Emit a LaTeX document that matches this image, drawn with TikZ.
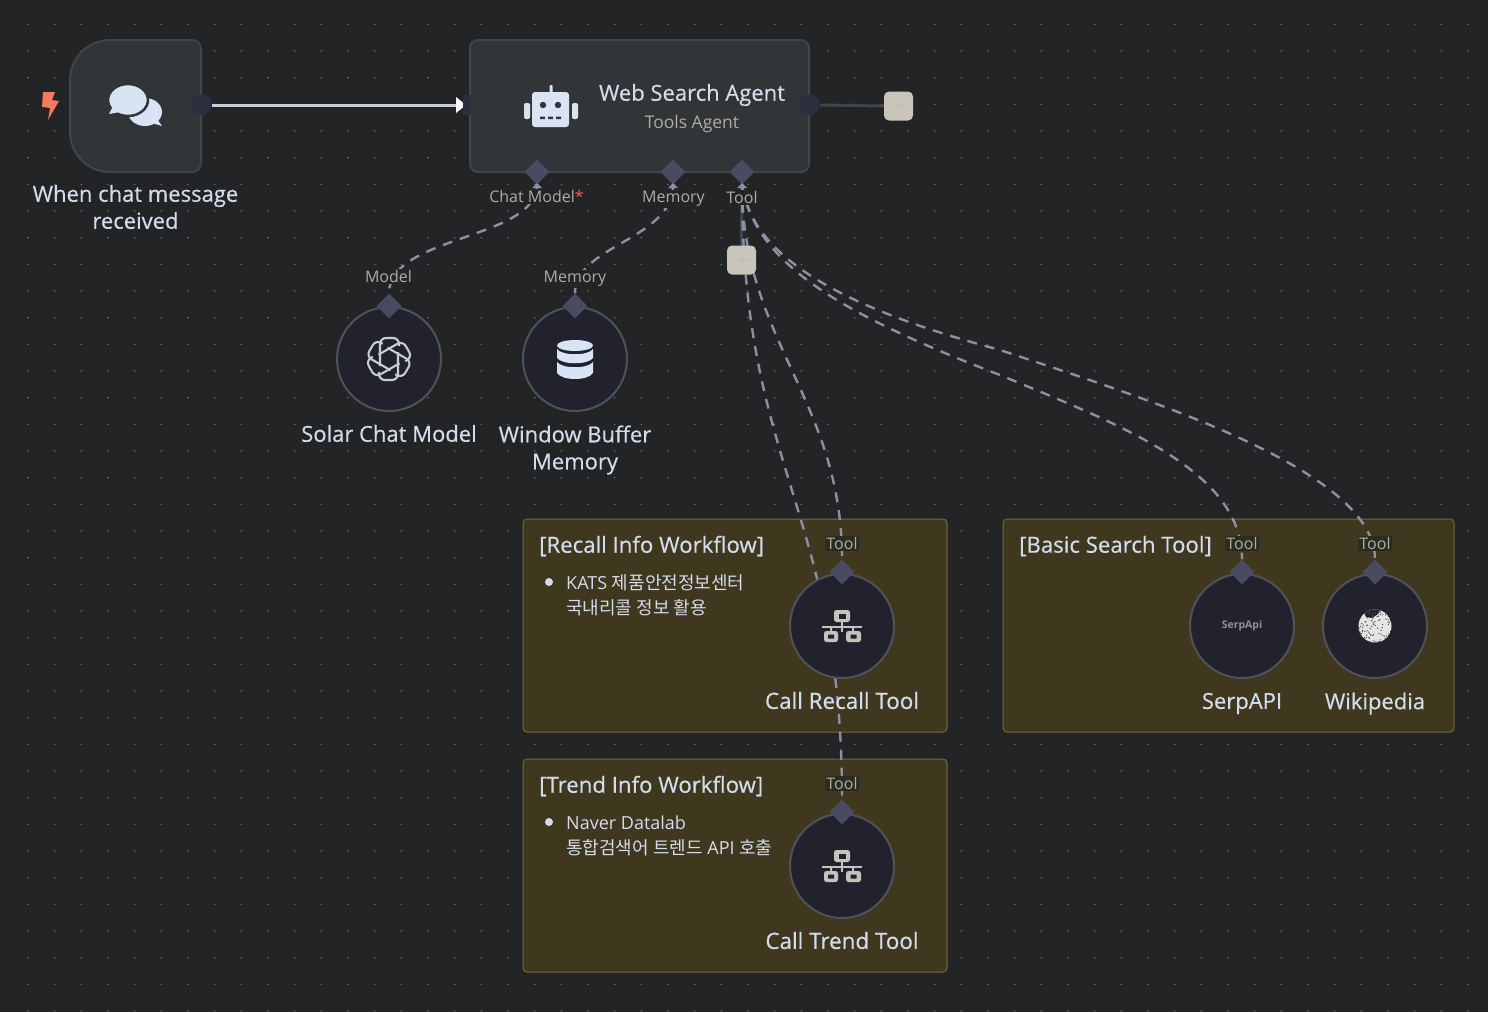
\documentclass[tikz,border=0pt]{standalone}
\usepackage{fontspec}
\setmainfont{Open Sans}
\newfontfamily\medfont{Open Sans}[FakeBold=0.5]
\newfontfamily\krfont{Noto Sans CJK KR}
\usetikzlibrary{shapes.geometric,arrows.meta}
\definecolor{bgc}{HTML}{232426}
\definecolor{dotc}{HTML}{6A6C70}
\definecolor{nodef}{HTML}{313538}
\definecolor{noded}{HTML}{3F4548}
\definecolor{circf}{HTML}{21222E}
\definecolor{circd}{HTML}{4D5358}
\definecolor{diac}{HTML}{4A4A62}
\definecolor{dashc}{HTML}{8E8EA6}
\definecolor{stickf}{HTML}{40371F}
\definecolor{stickd}{HTML}{77683A}
\definecolor{txtc}{HTML}{D3DCEB}
\definecolor{subc}{HTML}{B0ACA2}
\definecolor{plusc}{HTML}{C9C5BA}
\definecolor{portc}{HTML}{2A3040}
\definecolor{iconc}{HTML}{D8E3F3}
\definecolor{netc}{HTML}{C6C2B9}
\definecolor{lblbg}{HTML}{2C2B22}
\definecolor{boltc}{HTML}{F4795F}
\definecolor{oaic}{HTML}{C8CCD8}
\definecolor{serpc}{HTML}{8F8F9C}
\definecolor{globec}{HTML}{E4E4E4}
\definecolor{linec}{HTML}{C8CDD6}
\pgfdeclarelayer{back}
\pgfdeclarelayer{conn}
\pgfsetlayers{back,conn,main}
\tikzset{
  x=1pt,y=-1pt,
  agentbox/.style={draw=noded,fill=nodef,line width=2pt,rounded corners=8pt},
  stickybox/.style={draw=stickd,fill=stickf,line width=1pt,rounded corners=4pt},
  toolcircle/.style={circle,draw=circd,fill=circf,line width=2pt,minimum size=104pt,inner sep=0pt},
  portdia/.style={diamond,fill=diac,minimum width=25pt,minimum height=25pt,inner sep=0pt,aspect=1},
  outport/.style={circle,fill=portc,minimum size=21pt,inner sep=0pt},
  plusbox/.style={fill=plusc,rounded corners=5pt,minimum size=29pt,inner sep=0pt},
  title/.style={text=txtc,font=\medfont\fontsize{22}{27}\selectfont,align=center,inner sep=0pt},
  calltitle/.style={text=txtc,font=\medfont\fontsize{22.4}{27}\selectfont,align=center,inner sep=0pt},
  smalllbl/.style={text=subc,font=\fontsize{16}{19}\selectfont,inner sep=1.5pt,fill=bgc},
  boxlbl/.style={text=subc,font=\fontsize{16}{19}\selectfont,inner sep=1.5pt,fill=lblbg},
  notetxt/.style={text=txtc,font=\fontsize{18}{25}\selectfont,align=left,anchor=north west,inner sep=0pt},
  stickytitle/.style={text=txtc,font=\medfont\fontsize{22.2}{27}\selectfont,anchor=west,inner sep=0pt},
  dashline/.style={draw=dashc,line width=2.4pt,dash pattern=on 10pt off 8pt},
  solidline/.style={draw=noded,line width=3pt},
  mainline/.style={draw=linec,line width=3pt},
  bullet/.style={circle,fill=txtc,minimum size=8pt,inner sep=0pt},
  tiptri/.style={fill=dashc},
}
\begin{document}
\begin{tikzpicture}
\useasboundingbox (0,0) rectangle (1488,1012);
\begin{pgfonlayer}{back}
  \fill[bgc] (0,0) rectangle (1488,1012);
  \foreach \i in {0,...,54}{\foreach \j in {0,...,37}{
    \fill[dotc] ({28+26.667*\i},{24.3+26.667*\j}) circle (0.9pt);}}
  \draw[stickybox] (523,519) rectangle (947,732);
  \draw[stickybox] (1003,519) rectangle (1454,732);
  \draw[stickybox] (523,759) rectangle (947,972);
\end{pgfonlayer}

% trigger node
\draw[draw=noded,fill=nodef,line width=2pt] (110,40) -- (192,40) .. controls (197,40) and (201,44) .. (201,49) -- (201,163) .. controls (201,168) and (197,172) .. (192,172) -- (110,172) .. controls (88,172) and (70,154) .. (70,132) -- (70,80) .. controls (70,58) and (88,40) .. (110,40) -- cycle;
\node[outport] (trigout) at (201,105) {};
\coordinate (trigstart) at (212,105);
\fill[boltc] (43,92) -- (55,92) -- (52,100) -- (59,101) -- (48,120) -- (50,108) -- (42,107) -- cycle;
% chat icon
\fill[iconc] (162,126) -- (148,122) -- (155,116) -- cycle;
\fill[iconc] (145,112) ellipse [x radius=17pt,y radius=14pt];
\draw[nodef,fill=iconc,line width=2.5pt] (128,100) ellipse [x radius=20pt,y radius=16pt];
\fill[iconc] (109,114) -- (114,104) -- (120,112) -- cycle;
\node[title] (trigtext) at (135.5,207) {When chat message\\received};

% agent node
\draw[agentbox] (470,40) rectangle (809,172);
\fill[portc] (463,95) rectangle (471,115);
\coordinate (agentin) at (460,105);
\node[outport] (agentout) at (809,105) {};
\node[plusbox] (plusa) at (898.5,106) {};
\node[plusbox] (plusb) at (741.5,260) {};
\fill[plusc!97!black] (897.5,99) rectangle (899.5,113) (891.5,105) rectangle (905.5,107);
\fill[plusc!97!black] (740.5,253) rectangle (742.5,267) (734.5,259) rectangle (748.5,261);
\node[text=txtc,font=\medfont\fontsize{22}{27}\selectfont,inner sep=0pt] (agentname) at (692,95) {Web Search Agent};
\node[text=subc,font=\fontsize{17.5}{22}\selectfont,inner sep=0pt] (agentsub) at (692,124) {Tools Agent};
% robot icon
\fill[iconc,rounded corners=3pt] (532,92) rectangle (569,127);
\fill[iconc,rounded corners=1pt] (549.5,85) rectangle (552.5,93);
\fill[iconc,rounded corners=2pt] (524,103) rectangle (530,119);
\fill[iconc,rounded corners=2pt] (572,103) rectangle (578,119);
\fill[nodef] (543,105) circle (3.2pt) (558,105) circle (3.2pt);
\fill[nodef] (540,116.5) rectangle (545,119) (548,116.5) rectangle (553,119) (556,116.5) rectangle (561,119);

% agent ports
\node[portdia] (pchat) at (537,172) {};
\node[portdia] (pmem) at (673,172) {};
\node[portdia] (ptool) at (742,172) {};
\fill[tiptri] (532,188) -- (537,183) -- (542,188) -- cycle;
\fill[tiptri] (668,188) -- (673,183) -- (678,188) -- cycle;
\fill[tiptri] (737,188) -- (742,183) -- (747,188) -- cycle;
\node[smalllbl] (lchat) at (536.5,196.5) {Chat Model\textcolor{red!65!white}{*}};
\node[smalllbl] (lmem) at (673.5,199) {Memory};
\node[smalllbl] (ltool) at (742,197.5) {Tool};

% sub nodes
\node[toolcircle] (solar) at (389,359) {};
\node[toolcircle] (winmem) at (575,359) {};
\node[portdia] (dsolar) at (389,306) {};
\node[portdia] (dmem) at (575,306) {};
\node[smalllbl] (lmodel) at (388.5,276.5) {Model};
\node[smalllbl] (lmem2) at (575,279) {Memory};
\node[title] (tsolar) at (389,433.5) {Solar Chat Model};
\node[title] (tmem) at (575,450) {Window Buffer\\Memory};
% openai icon
\foreach \a in {0,60,...,300}{
  \draw[oaic,line width=2.1pt,rounded corners=6pt,rotate around={\a:(389,359)}] (380,366) -- (380,338) -- (399,338) -- (399,346);
}
% db icon
\fill[iconc] (575,345.5) ellipse [x radius=18pt,y radius=5.5pt];
\fill[iconc] (557,349) .. controls (562,356) and (588,356) .. (593,349) -- (593,358) .. controls (588,365) and (562,365) .. (557,358) -- cycle;
\fill[iconc] (557,362) .. controls (562,369) and (588,369) .. (593,362) -- (593,373) .. controls (588,381) and (562,381) .. (557,373) -- cycle;

% sticky text
\node[stickytitle] (s1) at (539,546) {[Recall Info Workflow]};
\node[stickytitle] (s2) at (1019,546) {[Basic Search Tool]};
\node[stickytitle] (s3) at (539,786) {[Trend Info Workflow]};
\node[bullet] (b1) at (549,582) {};
\node[bullet] (b2) at (549,822) {};
\node[notetxt] (n1) at (566,574) {KATS {\krfont 제품안전정보센터}\\[0pt]{\krfont 국내리콜 정보 활용}};
\node[notetxt] (n2) at (566,816) {Naver Datalab\\[0pt]{\krfont 통합검색어 트렌드} API {\krfont 호출}};

% tool nodes
\node[toolcircle] (recall) at (842,626) {};
\node[toolcircle] (trend) at (842,866) {};
\node[toolcircle] (serp) at (1242,626) {};
\node[toolcircle] (wiki) at (1375,626) {};
\node[portdia] (drecall) at (842,572) {};
\node[portdia] (dtrend) at (842,812) {};
\node[portdia] (dserp) at (1242,572) {};
\node[portdia] (dwiki) at (1375,572) {};
\node[boxlbl] (lr) at (842,543.5) {Tool};
\node[boxlbl] (lt) at (842,783.5) {Tool};
\node[boxlbl] (ls) at (1242,543.5) {Tool};
\node[boxlbl] (lw) at (1375,543.5) {Tool};
\node[calltitle] (trecall) at (842,700.5) {Call Recall Tool};
\node[calltitle] (ttrend) at (842,940.5) {Call Trend Tool};
\node[title] (tserp) at (1242,703.5) {SerpAPI};
\node[title] (twiki) at (1375,703.5) {Wikipedia};
% network icons
\foreach \yy in {626,866}{
  \fill[netc,rounded corners=2.5pt] (834,\yy-16) rectangle (850,\yy-4);
  \fill[circf] (838.5,\yy-12.5) rectangle (845.5,\yy-7.5);
  \fill[netc] (841,\yy-4) rectangle (843,\yy+6);
  \fill[netc] (822,\yy-0.5) rectangle (862,\yy+2);
  \fill[netc] (830,\yy) rectangle (832,\yy+6) (852,\yy) rectangle (854,\yy+6);
  \fill[netc,rounded corners=2.5pt] (824,\yy+5) rectangle (838,\yy+16);
  \fill[netc,rounded corners=2.5pt] (846,\yy+5) rectangle (861,\yy+16);
  \fill[circf] (828,\yy+8.5) rectangle (834,\yy+12.5) (850.5,\yy+8.5) rectangle (856.5,\yy+12.5);
}
\node[font=\bfseries\fontsize{10.5}{12}\selectfont,text=serpc,inner sep=0pt] (serplogo) at (1242,626) {SerpApi};
% wikipedia globe
\begin{scope}
  \clip (1375,626) circle (16.5pt);
  \fill[globec] (1375,626) circle (16.5pt);
  \fill[circf] (1362,608) -- (1381,608) -- (1378,614) -- (1372,618) -- (1366,617) -- cycle;
  \pgfmathsetseed{7}
  \foreach \k in {1,...,110}{
    \pgfmathsetmacro{\px}{1375+17*(2*rnd-1)}
    \pgfmathsetmacro{\py}{626+17*(2*rnd-1)}
    \fill[gray!65!black] (\px,\py) circle (0.7pt);
  }
\end{scope}

\begin{pgfonlayer}{conn}
  \draw[mainline] (trigstart) -- (agentin);
  \fill[white!85!txtc] (456,97) -- (466,105) -- (456,113) -- cycle;
  \draw[solidline] (agentout.east) -- (plusa.west);
  \draw[solidline] (ptool.south) -- (plusb.north);
  \draw[dashline] (pchat.south) .. controls (537,240) and (389,235) .. (dsolar.north);
  \draw[dashline] (pmem.south) .. controls (673,240) and (575,245) .. (dmem.north);
  \draw[dashline] (ptool.south) .. controls (742,340) and (842,400) .. (drecall.north);
  \draw[dashline] (ptool.south) .. controls (742,470) and (842,510) .. (dtrend.north);
  \draw[dashline] (ptool.south) .. controls (755,260) and (830,310) .. (1000,375) .. controls (1120,425) and (1242,470) .. (dserp.north);
  \draw[dashline] (ptool.south) .. controls (752,260) and (850,310) .. (1000,350) .. controls (1150,400) and (1375,470) .. (dwiki.north);
\end{pgfonlayer}
\end{tikzpicture}
\end{document}
